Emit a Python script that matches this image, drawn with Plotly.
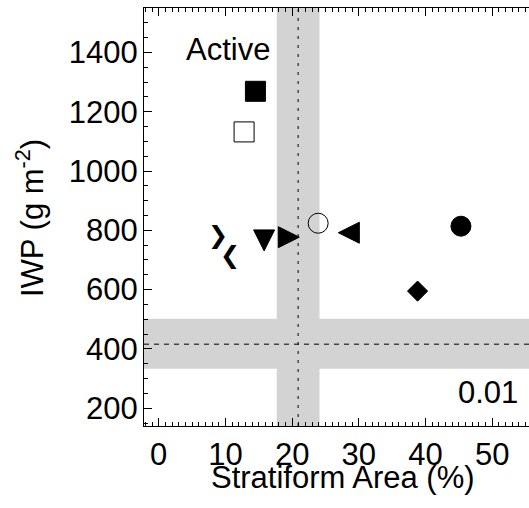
import plotly.graph_objects as go

# ---- data ----
x_ticks = [0, 10, 20, 30, 40, 50]
y_ticks = [200, 400, 600, 800, 1000, 1200, 1400]

# marker groups: stratiform area (%) and IWP (g m-2)
sq_fill_x, sq_fill_y = [14.5], [1269]
sq_open_x, sq_open_y = [12.8], [1132]
circ_open_x, circ_open_y = [23.9], [824]
circ_fill_x, circ_fill_y = [45.3], [814]
tri_left_x, tri_left_y = [28.5], [792]
tri_right_x, tri_right_y = [19.5], [777]
tri_down_x, tri_down_y = [15.8], [766]
diam_x, diam_y = [38.8], [595]
chev_right_x, chev_right_y = [8.9], [776]
chev_left_x, chev_left_y = [10.7], [710]

# observational reference: mean and spread
strat_obs_mean = 20.9
strat_obs_band = [17.7, 24.1]
iwp_obs_mean = 416
iwp_obs_band = [333, 502]

x_range = [-2.2, 55.5]
y_range = [140, 1550]

FONT = "Liberation Sans, Arial, Helvetica, sans-serif"
BAND = "#d3d3d3"
FS = 31

fig = go.Figure()

def add_marker(x, y, symbol, size, angle=0, standoff=0):
    fig.add_trace(go.Scatter(
        x=x, y=y, mode="markers", showlegend=False, hoverinfo="skip",
        marker=dict(symbol=symbol, size=size, angle=angle, standoff=standoff,
                    color="black", line=dict(color="black", width=1)),
    ))

add_marker(sq_fill_x, sq_fill_y, "square", 20)
add_marker(sq_open_x, sq_open_y, "square-open", 20)
add_marker(circ_open_x, circ_open_y, "circle-open", 20)
add_marker(circ_fill_x, circ_fill_y, "circle", 20)
add_marker(diam_x, diam_y, "diamond", 15.5)
add_marker(tri_down_x, tri_down_y, "arrow-down", 21, angle=0, standoff=10.5)
add_marker(tri_right_x, tri_right_y, "arrow-down", 21, angle=-90, standoff=10.5)
add_marker(tri_left_x, tri_left_y, "arrow-down", 21, angle=90, standoff=10.5)

for xs, ys, ch in [(chev_right_x, chev_right_y, "\u276F"), (chev_left_x, chev_left_y, "\u276E")]:
    fig.add_trace(go.Scatter(
        x=xs, y=ys, mode="text", text=[ch] * len(xs), showlegend=False,
        hoverinfo="skip", textposition="middle center",
        textfont=dict(family="DejaVu Sans", size=24, color="black"),
    ))

# invisible carrier so the top (mirrored) x axis is drawn
fig.add_trace(go.Scatter(x=[None], y=[None], xaxis="x2", yaxis="y", mode="markers",
                         showlegend=False, hoverinfo="skip"))

# shaded observational ranges and dashed means
fig.add_shape(type="rect", xref="x", yref="paper", x0=strat_obs_band[0], x1=strat_obs_band[1],
              y0=0, y1=1, fillcolor=BAND, line=dict(width=0), layer="below")
fig.add_shape(type="rect", xref="paper", yref="y", x0=0, x1=1,
              y0=iwp_obs_band[0], y1=iwp_obs_band[1], fillcolor=BAND, line=dict(width=0), layer="below")
fig.add_shape(type="line", xref="x", yref="paper", x0=strat_obs_mean, x1=strat_obs_mean, y0=0, y1=1,
              line=dict(color="black", width=1, dash="3px,6px"), layer="below")
fig.add_shape(type="line", xref="paper", yref="y", x0=0, x1=1, y0=iwp_obs_mean, y1=iwp_obs_mean,
              line=dict(color="black", width=1, dash="5px,5px"), layer="below")

axis_common = dict(showline=True, linecolor="black", linewidth=1, ticks="inside",
                   ticklen=8, tickwidth=1, tickcolor="black", showgrid=False, zeroline=False,
                   mirror=False)

fig.update_layout(
    width=529, height=508,
    margin=dict(l=144, r=0, t=8, b=82),
    paper_bgcolor="white", plot_bgcolor="white",
    font=dict(family=FONT, color="black", size=FS),
    xaxis=dict(range=x_range, tickvals=x_ticks, ticktext=[str(v) for v in x_ticks],
               minor=dict(ticks="inside", dtick=1, tick0=0, ticklen=4, tickcolor="black"),
               tickfont=dict(size=FS), ticklabelstandoff=1, **axis_common),
    xaxis2=dict(range=x_range, overlaying="x", side="top", anchor="y", matches="x",
                tickvals=x_ticks, showticklabels=False,
                minor=dict(ticks="inside", dtick=1, tick0=0, ticklen=4, tickcolor="black"),
                **axis_common),
    yaxis=dict(range=y_range, tickvals=y_ticks, ticktext=[str(v) for v in y_ticks],
               minor=dict(ticks="inside", dtick=50, tick0=0, ticklen=4, tickcolor="black"),
               tickfont=dict(size=FS), ticklabelstandoff=-1, **axis_common),
    annotations=[
        dict(text="Active", xref="paper", yref="paper", x=0.217, y=0.90,
             xanchor="center", yanchor="middle", showarrow=False, font=dict(size=FS)),
        dict(text="0.01", xref="paper", yref="paper", x=0.977, y=0.079,
             xanchor="right", yanchor="middle", showarrow=False, font=dict(size=FS)),
        dict(text="Stratiform Area (%)", xref="paper", yref="paper", x=0.5156, y=-0.124,
             xanchor="center", yanchor="middle", showarrow=False, font=dict(size=FS)),
        dict(text="IWP (g m<sup>-2</sup>)", xref="paper", yref="paper", x=-0.296, y=0.4976,
             xanchor="center", yanchor="middle", textangle=-90, showarrow=False,
             font=dict(size=FS)),
    ],
)

fig.write_html("out.html")
